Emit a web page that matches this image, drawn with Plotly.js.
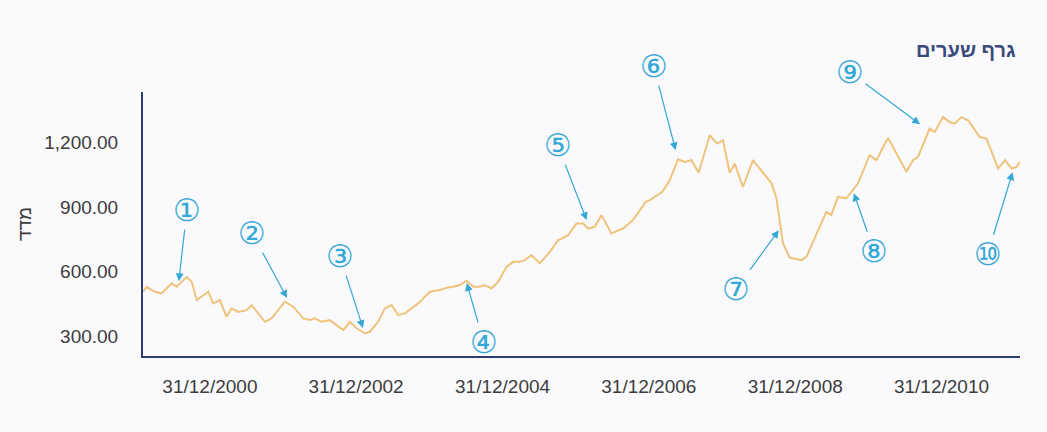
<!DOCTYPE html>
<html>
<head>
<meta charset="utf-8">
<script src="https://cdn.plot.ly/plotly-3.0.1.min.js"></script>
<style>html,body{margin:0;padding:0;background:#fafafc;}</style>
</head>
<body>
<div id="chart" style="width:1047px;height:432px;"></div>
<script>
const dates = [
  "2000-02-02","2000-02-19","2000-03-31","2000-05-04","2000-06-23","2000-07-18","2000-09-06","2000-10-01",
  "2000-10-26","2000-11-20","2000-12-23","2001-01-16","2001-02-19","2001-03-24","2001-04-18","2001-05-21",
  "2001-07-02","2001-07-27","2001-10-02","2001-11-04","2002-01-09","2002-02-20","2002-04-11","2002-05-14",
  "2002-06-08","2002-07-11","2002-08-22","2002-10-28","2002-11-30","2003-01-02","2003-02-13","2003-03-09",
  "2003-04-20","2003-05-23","2003-06-26","2003-07-29","2003-08-31","2003-11-06","2004-01-03","2004-02-22",
  "2004-04-03","2004-04-28","2004-06-01","2004-07-04","2004-08-06","2004-09-08","2004-10-03","2004-11-06",
  "2004-12-09","2005-01-20","2005-02-22","2005-03-27","2005-04-21","2005-05-24","2005-07-05","2005-08-24",
  "2005-10-04","2005-11-23","2006-01-04","2006-02-06","2006-03-03","2006-04-05","2006-05-09","2006-06-27",
  "2006-08-24","2006-10-13","2006-12-16","2007-01-05","2007-03-08","2007-04-14","2007-05-26","2007-06-28",
  "2007-08-01","2007-09-06","2007-10-31","2007-12-07","2008-01-05","2008-02-08","2008-03-04","2008-04-14",
  "2008-06-03","2008-09-04","2008-09-28","2008-10-31","2008-12-03","2009-01-31","2009-02-25","2009-04-24",
  "2009-06-04","2009-06-29","2009-08-01","2009-09-12","2009-11-09","2010-01-06","2010-02-09","2010-04-08",
  "2010-05-20","2010-07-09","2010-08-11","2010-09-05","2010-11-02","2010-11-27","2011-01-08","2011-02-10",
  "2011-03-07","2011-04-10","2011-05-13","2011-07-10","2011-08-13","2011-10-10","2011-11-13","2011-12-16",
  "2012-01-10","2012-01-27"
];
const values = [
  508,531,508,500,547,531,577,554,
  469,485,508,454,469,392,431,415,
  423,446,369,385,462,439,385,377,
  385,369,377,331,369,339,316,323,
  369,431,446,400,408,454,508,516,
  528,531,539,559,531,531,539,523,
  554,623,646,646,654,677,639,692,
  746,769,823,823,800,808,862,777,
  800,839,923,931,969,1023,1120,1108,
  1116,1058,1231,1193,1208,1058,1100,992,
  1116,1009,940,731,666,654,669,792,
  877,862,946,939,1008,1139,1116,1219,
  1146,1062,1116,1131,1262,1246,1315,1292,
  1285,1315,1300,1223,1216,1077,1116,1077,
  1085,1108
];
const xTickVals = ["2000-12-31","2002-12-31","2004-12-31","2006-12-31","2008-12-31","2010-12-31"];
const xTickText = ["31/12/2000","31/12/2002","31/12/2004","31/12/2006","31/12/2008","31/12/2010"];
const yTickVals = [300, 600, 900, 1200];

// hand-drawn callouts: label, target date, target value, text offset (px)
const noteLabels = ["①","②","③","④","⑤","⑥","⑦","⑧","⑨","⑩"];
const noteDates  = ["2000-07-29","2002-01-20","2003-02-03","2004-07-05","2006-02-24","2007-05-14","2008-10-10","2009-10-20","2010-09-15","2011-12-21"];
const noteValues = [557,479,340,548,839,1162,792,963,1282,1060];
const noteAx = [8,-35,-23,17,-29,-22,-43,20,-70,-25];
const noteAy = [-71,-65,-72,59,-75,-84,59,58,-52,82];

const annotations = noteLabels.map((t,i)=>({
  x: noteDates[i], y: noteValues[i], xref:'x', yref:'y',
  text: t, showarrow: true, ax: noteAx[i], ay: noteAy[i],
  arrowhead: 2, arrowsize: 1.3, arrowwidth: 1.2, arrowcolor: '#35a8d6',
  font: {family: 'DejaVu Sans', size: 31, color: '#35a8d6'}
}));

const trace = {
  x: dates, y: values, type: 'scatter', mode: 'lines',
  line: {color: '#efc37c', width: 2},
  hoverinfo: 'x+y'
};

const tickFont = {family: 'Liberation Sans, Arial, sans-serif', size: 19, color: '#3c3c3c'};

const layout = {
  width: 1047, height: 432,
  paper_bgcolor: '#fafafc', plot_bgcolor: '#fafafc',
  margin: {l: 143, r: 27, t: 92, b: 76},
  showlegend: false,
  title: {
    text: 'גרף שערים', xref: 'container', yref: 'container',
    x: 0.97, xanchor: 'right', y: 0.884, yanchor: 'middle',
    font: {family: 'Liberation Sans, Arial, sans-serif', size: 20, color: '#3a4a7c', weight: 'bold'}
  },
  xaxis: {
    type: 'date', range: ['2000-02-01','2012-01-27'],
    tickvals: xTickVals, ticktext: xTickText,
    showgrid: false, zeroline: false,
    showline: true, linecolor: '#2f3a78', linewidth: 2,
    ticks: '', ticklabelstandoff: 12,
    tickfont: tickFont
  },
  yaxis: {
    range: [211, 1431],
    tickvals: yTickVals, tickformat: ',.2f',
    showgrid: false, zeroline: false,
    showline: true, linecolor: '#2f3a78', linewidth: 2,
    ticks: '', ticklabelstandoff: 19,
    tickfont: tickFont,
    title: {text: 'מדד', standoff: 8, font: {family: 'Liberation Sans, Arial, sans-serif', size: 19, color: '#3c3c3c'}}
  },
  annotations: annotations
};

Plotly.newPlot('chart', [trace], layout, {displayModeBar: false, staticPlot: true});
</script>
</body>
</html>
